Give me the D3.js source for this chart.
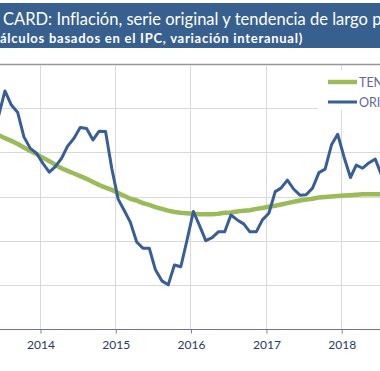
<!doctype html>
<html lang="es">
<head>
    <meta charset="UTF-8">
    <title>CARD: Inflación, serie original y tendencia</title>
    <script type="text/javascript" src="https://cdn.jsdelivr.net/npm/d3@7/dist/d3.min.js"></script>
    <style type="text/css">
        body {
            margin: 0;
            background: #fff;
        }
        svg {
            display: block;
        }
        .tick text {
            font-family: Lato, "Open Sans", sans-serif;
        }
    </style>
</head>
<body>

<script type="text/javascript">
    var w = 380;
    var h = 371;

    // monthly data, Jun 2013 .. Jul 2018
    var months = d3.timeMonth.range(new Date(2013, 5, 1), new Date(2018, 7, 1));
    var original = [4.84, 5.39, 5.07, 4.90, 4.35, 4.09, 3.98, 3.75, 3.55, 3.67, 3.86, 4.14,
        4.32, 4.56, 4.54, 4.28, 4.48, 4.47, 3.64, 2.94, 2.67, 2.42, 1.97, 1.83,
        1.83, 1.34, 1.09, 1.00, 1.45, 1.41, 2.01, 2.66, 2.33, 2.00, 2.07, 2.20,
        2.20, 2.58, 2.47, 2.38, 2.20, 2.20, 2.47, 2.62, 3.11, 3.19, 3.37, 3.17,
        3.03, 3.04, 3.19, 3.54, 3.62, 4.17, 4.41, 3.89, 3.43, 3.71, 3.64, 3.76,
        3.85, 3.49];
    var tendencia = [4.39, 4.32, 4.26, 4.19, 4.11, 4.03, 3.96, 3.88, 3.80, 3.72, 3.64, 3.58,
        3.52, 3.46, 3.40, 3.33, 3.26, 3.20, 3.15, 3.08, 3.01, 2.95, 2.91, 2.85,
        2.81, 2.76, 2.72, 2.68, 2.65, 2.63, 2.62, 2.61, 2.60, 2.60, 2.60, 2.61,
        2.63, 2.64, 2.66, 2.68, 2.69, 2.72, 2.74, 2.77, 2.79, 2.82, 2.85, 2.88,
        2.91, 2.93, 2.95, 2.98, 2.99, 3.00, 3.01, 3.02, 3.03, 3.04, 3.05, 3.05,
        3.05, 3.05];
    var years = [2014, 2015, 2016, 2017, 2018];
    var yTicks = [1, 2, 3, 4, 5, 6];
    var legendNames = ["TENDENCIA", "ORIGINAL"];
    var title1 = "CARD: Inflación, serie original y tendencia de largo plazo";
    var title2 = "(Cálculos basados en el IPC, variación interanual)";

    var blue = "#375e96";
    var green = "#9bbb59";

    var svg = d3.select("body").append("svg").attr("width", w).attr("height", h);

    // title banner
    svg.append("rect").attr("x", 0).attr("y", 3).attr("width", w).attr("height", 45)
        .attr("fill", "#38608f");

    var t1 = svg.append("text").text(title1)
        .attr("x", 3).attr("y", 25)
        .attr("fill", "#fff")
        .attr("font-family", "Lato, sans-serif")
        .attr("font-size", "16.5px");
    var w1 = t1.node().getSubStringLength(0, 52);
    t1.attr("letter-spacing", ((365 - w1) / 52) + "px");

    var t2 = svg.append("text").text(title2)
        .attr("y", 43)
        .attr("fill", "#fff")
        .attr("font-family", "Lato, sans-serif")
        .attr("font-weight", "bold")
        .attr("font-size", "13px");
    var pre = t2.node().getSubStringLength(0, 2);
    var rest = t2.node().getSubStringLength(2, title2.length - 2);
    var ls2 = (303 - rest) / (title2.length - 2);
    t2.attr("letter-spacing", ls2 + "px").attr("x", -(pre + 2 * ls2));

    // scales
    var x_scale = d3.scaleTime()
        .domain([new Date(2014, 0, 1), new Date(2018, 0, 1)])
        .range([40, 341.2]);
    var y_scale = d3.scaleLinear().domain([0, 6]).range([329, 64]);

    var yearDates = years.map(function (d) {
        return new Date(d, 0, 1);
    });

    // grid
    svg.selectAll("line.hgrid")
        .data(yTicks)
        .enter()
        .append("line")
        .attr("class", "hgrid")
        .attr("x1", 0).attr("x2", w)
        .attr("y1", function (d) {
            return Math.round(y_scale(d)) + 0.5;
        })
        .attr("y2", function (d) {
            return Math.round(y_scale(d)) + 0.5;
        })
        .attr("stroke", function (d) {
            return d === 6 ? "#979797" : "#d9d9d9";
        })
        .attr("stroke-width", function (d) {
            return d === 6 ? 1.3 : 1;
        });

    svg.selectAll("line.vgrid")
        .data(yearDates)
        .enter()
        .append("line")
        .attr("class", "vgrid")
        .attr("x1", function (d) {
            return Math.round(x_scale(d)) + 0.5;
        })
        .attr("x2", function (d) {
            return Math.round(x_scale(d)) + 0.5;
        })
        .attr("y1", y_scale(6) + 1).attr("y2", y_scale(0))
        .attr("stroke", "#d9d9d9");

    // legend box covers the grid
    svg.append("rect").attr("x", 318).attr("y", 70).attr("width", 62).attr("height", 40)
        .attr("fill", "#fff");

    // x axis
    var xAxis = d3.axisBottom(x_scale)
        .tickValues(yearDates)
        .tickSize(4)
        .tickPadding(7)
        .tickFormat(d3.timeFormat("%Y"));
    var gx = svg.append("g")
        .attr("transform", "translate(0.5," + (y_scale(0) + 0.5) + ")")
        .call(xAxis);
    gx.select(".domain").remove();
    gx.selectAll(".tick line").attr("stroke", "#7b7ba6");
    gx.selectAll(".tick text").attr("fill", "#1f3a63").attr("font-size", "12px");
    svg.append("line")
        .attr("x1", 0).attr("x2", w)
        .attr("y1", y_scale(0) + 0.5).attr("y2", y_scale(0) + 0.5)
        .attr("stroke", "#6f6fa0");

    // lines
    function mid(d) {
        return new Date(d.getFullYear(), d.getMonth(), 15);
    }

    var line = d3.line()
        .x(function (d) {
            return x_scale(mid(d[0]));
        })
        .y(function (d) {
            return y_scale(d[1]);
        });

    svg.append("path")
        .datum(d3.zip(months, tendencia))
        .attr("d", line)
        .attr("fill", "none")
        .attr("stroke", green)
        .attr("stroke-width", 4.5)
        .attr("stroke-linejoin", "round");

    svg.append("path")
        .datum(d3.zip(months, original))
        .attr("d", line)
        .attr("fill", "none")
        .attr("stroke", blue)
        .attr("stroke-width", 3)
        .attr("stroke-linejoin", "round");

    // legend
    var legendColors = [green, blue];
    var legendWidths = [4.5, 3];
    var lg = svg.selectAll("g.legend")
        .data(legendNames)
        .enter()
        .append("g")
        .attr("class", "legend")
        .attr("transform", function (d, i) {
            return "translate(328," + (82 + i * 20) + ")";
        });
    lg.append("line")
        .attr("x1", 0).attr("x2", 29)
        .attr("stroke", function (d, i) {
            return legendColors[i];
        })
        .attr("stroke-width", function (d, i) {
            return legendWidths[i];
        });
    lg.append("text")
        .text(function (d) {
            return d;
        })
        .attr("x", 31)
        .attr("y", 4.5)
        .attr("fill", "#66669a")
        .attr("font-family", "Lato, sans-serif")
        .attr("font-size", "12.5px");

</script>

</body>
</html>
